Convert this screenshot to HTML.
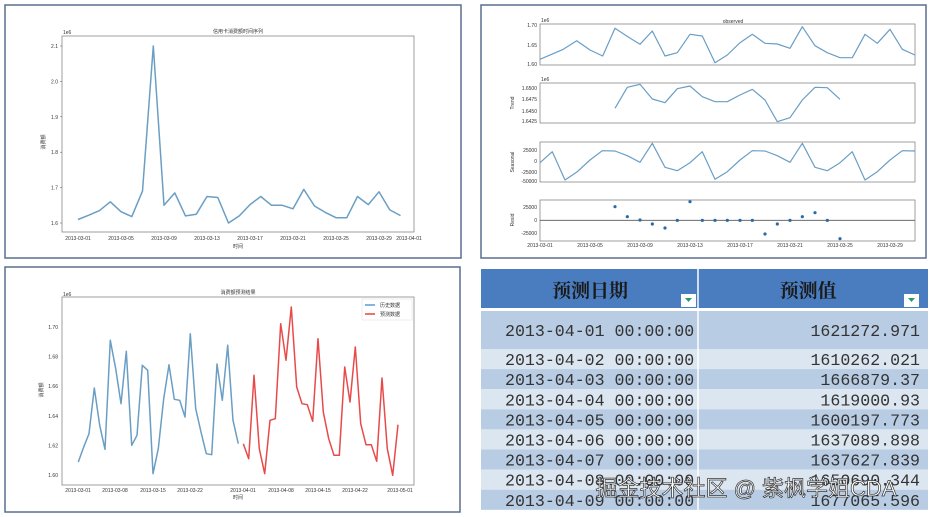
<!DOCTYPE html>
<html><head><meta charset="utf-8"><style>
html,body{margin:0;padding:0;background:#fff;}
svg{display:block;font-family:"Liberation Sans","Noto Sans CJK SC",sans-serif;}
.t{font-size:5px;fill:#333}
.m{font-family:"Liberation Mono","Noto Sans CJK SC",monospace;font-size:16.6px;fill:#333}
</style></head><body>
<svg id="s" width="931" height="517" viewBox="0 0 931 517" xmlns="http://www.w3.org/2000/svg">
<!-- panel borders -->
<rect x="5" y="5" width="456" height="253" fill="#fff" stroke="#5a6f8f" stroke-width="1.5"/>
<rect x="481" y="5" width="445" height="253" fill="#fff" stroke="#5a6f8f" stroke-width="1.5"/>
<rect x="5" y="267" width="455" height="245" fill="#fff" stroke="#5a6f8f" stroke-width="1.5"/>

<!-- panel1 -->
<rect x="62" y="36" width="352" height="196" fill="none" stroke="#888" stroke-width="0.8"/>
<text x="238" y="33" class="t" text-anchor="middle">信用卡消费额时间序列</text>
<text x="63" y="34" class="t">1e6</text>
<text x="45" y="142" class="t" transform="rotate(-90 45 142)" text-anchor="middle">消费额</text>
<text x="238" y="248" class="t" text-anchor="middle">时间</text>
<g id="p1"></g>

<!-- panel2 -->
<g id="p2"></g>
<text x="733" y="23" class="t" text-anchor="middle">observed</text>

<!-- panel3 -->
<rect x="62" y="297" width="352" height="188" fill="none" stroke="#888" stroke-width="0.8"/>
<text x="238" y="294" class="t" text-anchor="middle">消费额预测结果</text>
<text x="63" y="296" class="t">1e6</text>
<text x="43" y="390" class="t" transform="rotate(-90 43 390)" text-anchor="middle">消费额</text>
<text x="238" y="499" class="t" text-anchor="middle">时间</text>
<g id="p3"></g>
<rect x="362" y="299" width="50" height="21" fill="#fff" stroke="#ddd" stroke-width="0.5"/>
<line x1="365" y1="305" x2="375" y2="305" stroke="#5b9bd5" stroke-width="1.5"/>
<line x1="365" y1="314" x2="375" y2="314" stroke="#e84040" stroke-width="1.5"/>
<text x="380" y="307" class="t">历史数据</text>
<text x="380" y="316" class="t">预测数据</text>

<!-- panel4 table -->
<rect x="481" y="269" width="447" height="39" fill="#4a7cc0"/>
<line x1="698" y1="269" x2="698" y2="510" stroke="#fff" stroke-width="1.5"/>
<text x="590" y="297" font-size="19" font-weight="bold" fill="#1a1a1a" text-anchor="middle" font-family="'Noto Serif CJK SC','Noto Sans CJK SC',serif">预测日期</text>
<text x="808" y="297" font-size="19" font-weight="bold" fill="#1a1a1a" text-anchor="middle" font-family="'Noto Serif CJK SC','Noto Sans CJK SC',serif">预测值</text>
<rect x="681" y="294" width="15" height="13" fill="#fff"/><polygon points="685,298 692,298 688.5,302" fill="#2a9a6a"/>
<rect x="904" y="294" width="15" height="13" fill="#fff"/><polygon points="908,298 915,298 911.5,302" fill="#2a9a6a"/>
<g id="tb"></g>
<text x="746" y="496" font-size="22" fill="#fff" stroke="#333" stroke-width="0.7" text-anchor="middle" font-family="'Liberation Sans','Noto Sans CJK SC',sans-serif">掘金技术社区 @ 紫枫学姐CDA</text>
</svg>
<script>
const NS="http://www.w3.org/2000/svg";
function el(p,t,a,txt){const e=document.createElementNS(NS,t);for(const k in a)e.setAttribute(k,a[k]);if(txt!==undefined)e.textContent=txt;p.appendChild(e);return e;}
function line(p,pts,c,w){el(p,"polyline",{points:pts.map(q=>q[0].toFixed(1)+","+q[1].toFixed(1)).join(" "),fill:"none",stroke:c,"stroke-width":w||1.4,"stroke-linejoin":"round"});}
// panel1
const g1=document.getElementById("p1");
const v1=[1.61,1.622,1.635,1.66,1.632,1.618,1.69,2.10,1.65,1.685,1.62,1.625,1.675,1.672,1.60,1.62,1.652,1.675,1.65,1.65,1.64,1.695,1.648,1.63,1.615,1.615,1.675,1.652,1.688,1.637,1.621];
line(g1,v1.map((v,i)=>[78+10.75*i,223-(v-1.6)*354]),"#6a9ec4",1.5);
[2.1,2.0,1.9,1.8,1.7,1.6].forEach(v=>{const y=223-(v-1.6)*354;el(g1,"line",{x1:60,y1:y,x2:62,y2:y,stroke:"#555","stroke-width":0.5});el(g1,"text",{x:58,y:y+2,"text-anchor":"end",class:"t"},v.toFixed(1));});
["03-01","03-05","03-09","03-13","03-17","03-21","03-25","03-29","04-01"].forEach((d,i)=>{const x=i<8?78+43*i:409;el(g1,"text",{x:x,y:240,"text-anchor":"middle",class:"t"},"2013-"+d);});
// panel2
const g2=document.getElementById("p2");
const boxes=[[24,65],[83,123],[142,182],[200,241]];
boxes.forEach(b=>el(g2,"rect",{x:540,y:b[0],width:375,height:b[1]-b[0],fill:"none",stroke:"#888","stroke-width":0.8}));
const Z=a=>a.map(q=>[480+q[0]/3,q[1]/3]);
line(g2,Z([[180,178],[250,148],[290,122],[330,150],[368,168],[405,85],[440,108],[480,133],[517,93],[555,168],[592,158],[630,103],[667,108],[705,188],[742,165],[780,128],[817,103],[855,130],[892,132],[930,145],[967,80],[1005,137],[1042,158],[1080,173],[1117,173],[1155,103],[1192,130],[1230,88],[1267,148],[1305,165]]),"#6a9ec4",1.2);
line(g2,Z([[405,325],[442,262],[480,253],[517,297],[555,308],[592,266],[630,258],[667,290],[705,305],[742,305],[780,285],[817,268],[855,300],[892,365],[930,353],[967,300],[1005,262],[1042,263],[1080,298]]),"#6a9ec4",1.2);
line(g2,Z([[180,488],[217,455],[255,540],[292,515],[330,480],[367,452],[405,453],[442,467],[480,487],[517,430],[555,502],[592,512],[630,488],[667,455],[705,538],[742,515],[780,480],[817,452],[855,453],[892,467],[930,487],[967,430],[1005,502],[1042,512],[1080,488],[1117,455],[1155,540],[1192,515],[1230,480],[1267,452],[1305,453]]),"#6a9ec4",1.2);
el(g2,"line",{x1:540,y1:220.3,x2:915,y2:220.3,stroke:"#555","stroke-width":0.8});
Z([[405,620],[442,650],[480,660],[517,672],[555,684],[592,661],[630,605],[667,661],[705,661],[742,661],[780,661],[817,661],[855,702],[892,672],[930,661],[967,650],[1005,638],[1042,661],[1080,716]]).forEach(q=>el(g2,"circle",{cx:q[0],cy:q[1],r:1.6,fill:"#2a6aa8"}));
[[1.70,25],[1.65,45],[1.60,64],].forEach(a=>el(g2,"text",{x:537,y:a[1]+2,"text-anchor":"end",class:"t"},a[0].toFixed(2)));
[["1.6500",88],["1.6475",99],["1.6450",111],["1.6425",121]].forEach(a=>el(g2,"text",{x:537,y:a[1]+2,"text-anchor":"end",class:"t"},a[0]));
[["25000",150],["0",161],["-25000",172],["-50000",181]].forEach(a=>el(g2,"text",{x:537,y:a[1]+2,"text-anchor":"end",class:"t"},a[0]));
[["25000",207],["0",220],["-25000",233]].forEach(a=>el(g2,"text",{x:537,y:a[1]+2,"text-anchor":"end",class:"t"},a[0]));
el(g2,"text",{x:541,y:22,class:"t"},"1e6");el(g2,"text",{x:541,y:81,class:"t"},"1e6");
["Trend",103,"Seasonal",162,"Resid",220].forEach(()=>{});
[["Trend",103],["Seasonal",162],["Resid",220]].forEach(a=>el(g2,"text",{x:514,y:a[1],class:"t","text-anchor":"middle",transform:`rotate(-90 514 ${a[1]})`},a[0]));
["03-01","03-05","03-09","03-13","03-17","03-21","03-25","03-29"].forEach((d,i)=>el(g2,"text",{x:540+50*i,y:247,"text-anchor":"middle",class:"t"},"2013-"+d));
// panel3
const g3=document.getElementById("p3");
const bz=[600,555,515,378,490,562,235,320,425,268,550,520,310,325,635,560,410,308,412,415,465,215,440,510,575,578,306,415,250,475,545];
line(g3,bz.map((y,i)=>[(235+16*i)/3,262+y/3]),"#6a9ec4",1.5);
const rz=[545,590,340,560,635,475,470,185,295,135,375,425,428,478,230,450,530,580,580,315,420,255,485,548,548,598,348,560,640,488];
line(g3,rz.map((y,i)=>[(730+16*i)/3,262+y/3]),"#e84a4a",1.5);
[1.70,1.68,1.66,1.64,1.62,1.60].forEach(v=>{const y=475-(v-1.6)*1480;el(g3,"text",{x:58,y:y+2,"text-anchor":"end",class:"t"},v.toFixed(2));});
[["03-01",78],["03-08",115],["03-15",153],["03-22",190],["04-01",243],["04-08",281],["04-15",318],["04-22",355],["05-01",400]].forEach(a=>el(g3,"text",{x:a[1],y:492,"text-anchor":"middle",class:"t"},"2013-"+a[0]));
// table
const tb=document.getElementById("tb");
const rows=[["01","1621272.971"],["02","1610262.021"],["03","1666879.37"],["04","1619000.93"],["05","1600197.773"],["06","1637089.898"],["07","1637627.839"],["08","1650690.344"],["09","1677065.596"]];
let y=311;
rows.forEach((r,i)=>{const h=i==0?38:20.1;const c=i%2==0?"#b8cce4":"#dce6f1";
el(tb,"rect",{x:481,y:y,width:447,height:h,fill:c});
const ty=y+h/2+6;
el(tb,"text",{x:505,y:ty,class:"m"},"2013-04-"+r[0]+" 00:00:00");
el(tb,"text",{x:920,y:ty,class:"m","text-anchor":"end"},r[1]);
y+=h;});
el(tb,"line",{x1:698,y1:308,x2:698,y2:510,stroke:"#fff","stroke-width":1.5});
</script>
</body></html>
